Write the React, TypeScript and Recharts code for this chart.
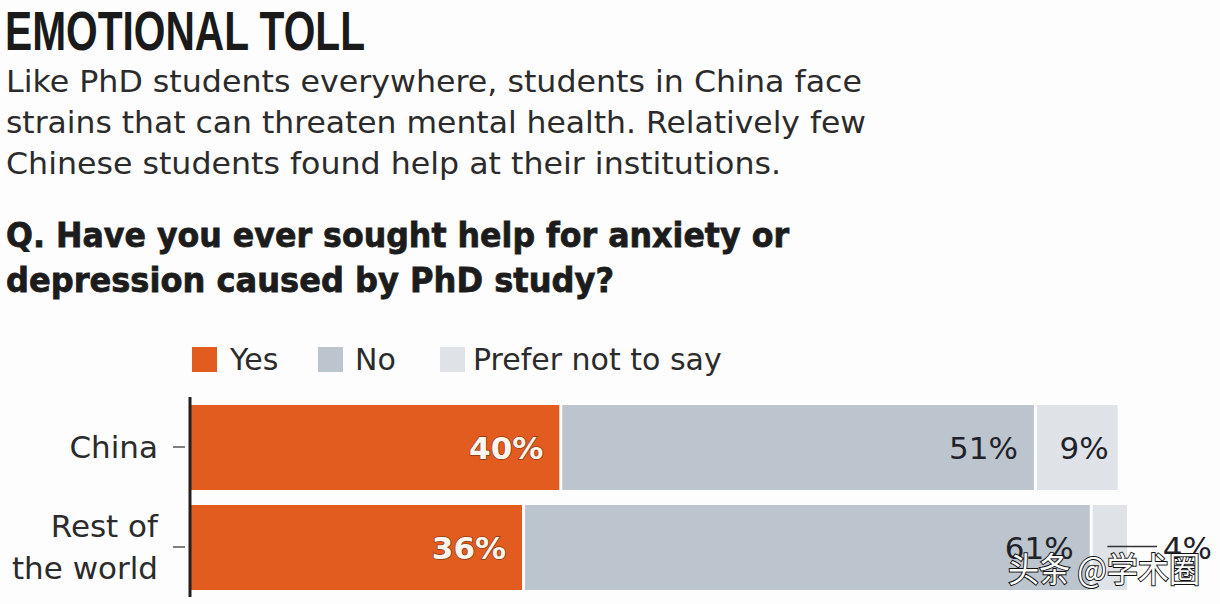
import React from "react";
import { BarChart, Bar, XAxis, YAxis, LabelList } from "recharts";

const titleText = "EMOTIONAL TOLL";
const subtitleLines = [
  "Like PhD students everywhere, students in China face",
  "strains that can threaten mental health. Relatively few",
  "Chinese students found help at their institutions.",
];
const questionLines = [
  "Q. Have you ever sought help for anxiety or",
  "depression caused by PhD study?",
];
const categories = ["China", "Rest of the world"];
const categoryLines: string[][] = [["China"], ["Rest of", "the world"]];
const seriesNames = ["Yes", "No", "Prefer not to say"];
const yesValues = [40, 36];
const noValues = [51, 61];
const preferValues = [9, 4];
const watermark = "头条 @学术圈";

const COLORS = ["#e25b1f", "#bcc4cd", "#dfe3e8"];
const FONT = "'DejaVu Sans', 'Open Sans', sans-serif";

const data = categories.map((c, i) => ({
  category: c,
  yes: yesValues[i],
  no: noValues[i],
  prefer: preferValues[i],
}));

const GapRect = (props: any) => {
  const { x, y, width, height, fill } = props;
  return <rect x={x} y={y} width={Math.max(width - 3, 0)} height={height} fill={fill} />;
};

const renderTick = (props: any) => {
  const { x, y, payload } = props;
  const idx = categories.indexOf(payload.value);
  const lines = categoryLines[idx] || [payload.value];
  const n = lines.length;
  return (
    <g>
      <line x1={x - 9} x2={x + 3} y1={y} y2={y} stroke="#555" strokeWidth={1.5} />
      {lines.map((l, i) => (
        <text
          key={i}
          x={x - 24}
          y={y + 11 + (i - (n - 1) / 2) * 42}
          textAnchor="end"
          fontFamily={FONT}
          fontSize={31}
          fill="#2b2b2b"
        >
          {l}
        </text>
      ))}
    </g>
  );
};

const makeLabel = (kind: "yes" | "no" | "prefer") => (props: any) => {
  const { x, y, width, height, value } = props;
  const cy = y + height / 2 + 11;
  const txt = `${value}%`;
  if (kind === "yes") {
    return (
      <text
        x={x + width - 19}
        y={cy}
        textAnchor="end"
        fontFamily={FONT}
        fontWeight={700}
        fontSize={31}
        fill="#fff6ee"
        stroke="#8a3a18"
        strokeWidth={1.5}
        paintOrder="stroke"
      >
        {txt}
      </text>
    );
  }
  if (kind === "no") {
    return (
      <text x={x + width - 19} y={cy} textAnchor="end" fontFamily={FONT} fontSize={31} fill="#1f2228">
        {txt}
      </text>
    );
  }
  if (width < 50) {
    return (
      <g>
        <line x1={x + width / 2 - 4} x2={x + width + 27} y1={y + height / 2 - 1} y2={y + height / 2 - 1} stroke="#333" strokeWidth={1.5} />
        <text x={x + width + 82} y={cy} textAnchor="end" fontFamily={FONT} fontSize={31} fill="#1f2228">
          {txt}
        </text>
      </g>
    );
  }
  return (
    <text x={x + width - 12} y={cy} textAnchor="end" fontFamily={FONT} fontSize={31} fill="#1f2228">
      {txt}
    </text>
  );
};

const legendItems = [
  { sq: 192, tx: 230 },
  { sq: 318, tx: 355 },
  { sq: 440, tx: 473 },
];

export default function App() {
  return (
    <div
      style={{
        position: "absolute",
        left: 0,
        top: 0,
        width: 1220,
        height: 604,
        background: "#fdfdfd",
        overflow: "hidden",
      }}
    >
      <BarChart
        layout="vertical"
        width={1220}
        height={604}
        data={data}
        margin={{ top: 397, right: 90, bottom: 7, left: 0 }}
        barSize={85}
      >
        <XAxis type="number" domain={[0, 101]} hide />
        <YAxis
          type="category"
          dataKey="category"
          width={190}
          axisLine={{ stroke: "#231f20", strokeWidth: 3 }}
          tickLine={false}
          tick={renderTick}
        />
        <Bar dataKey="yes" name={seriesNames[0]} stackId="a" fill={COLORS[0]} shape={GapRect} isAnimationActive={false}>
          <LabelList dataKey="yes" content={makeLabel("yes")} />
        </Bar>
        <Bar dataKey="no" name={seriesNames[1]} stackId="a" fill={COLORS[1]} shape={GapRect} isAnimationActive={false}>
          <LabelList dataKey="no" content={makeLabel("no")} />
        </Bar>
        <Bar dataKey="prefer" name={seriesNames[2]} stackId="a" fill={COLORS[2]} shape={GapRect} isAnimationActive={false}>
          <LabelList dataKey="prefer" content={makeLabel("prefer")} />
        </Bar>
      </BarChart>
      <svg
        width={1220}
        height={604}
        style={{ position: "absolute", left: 0, top: 0, pointerEvents: "none" }}
      >
        <text
          x={5}
          y={50}
          fontFamily="'Liberation Sans Narrow', 'Liberation Sans', Arial, sans-serif"
          fontWeight={700}
          fontSize={56}
          fill="#1a1a1a"
          textLength={360}
          lengthAdjust="spacingAndGlyphs"
        >
          {titleText}
        </text>
        {subtitleLines.map((l, i) => (
          <text
            key={i}
            x={6}
            y={92 + i * 41}
            fontFamily={FONT}
            fontSize={31}
            fill="#2b2b2b"
            textLength={[856, 860, 775][i]}
            lengthAdjust="spacingAndGlyphs"
          >
            {l}
          </text>
        ))}
        {questionLines.map((l, i) => (
          <text
            key={i}
            x={6}
            y={247 + i * 45}
            fontFamily={FONT}
            fontWeight={700}
            fontSize={34}
            fill="#1c1c1c"
            stroke="#1c1c1c"
            strokeWidth={0.8}
            textLength={[783, 608][i]}
            lengthAdjust="spacingAndGlyphs"
          >
            {l}
          </text>
        ))}
        {seriesNames.map((name, i) => (
          <g key={name}>
            <rect x={legendItems[i].sq} y={347} width={25} height={25} fill={COLORS[i]} />
            <text x={legendItems[i].tx} y={370} fontFamily={FONT} fontSize={30} fill="#2b2b2b">
              {name}
            </text>
          </g>
        ))}
        <text
          x={1008}
          y={582}
          fontFamily="'Noto Sans CJK SC', sans-serif"
          fontSize={34}
          fill="#ffffff"
          stroke="#111"
          strokeWidth={2}
          paintOrder="stroke"
          textLength={192}
          lengthAdjust="spacingAndGlyphs"
        >
          {watermark}
        </text>
      </svg>
    </div>
  );
}
